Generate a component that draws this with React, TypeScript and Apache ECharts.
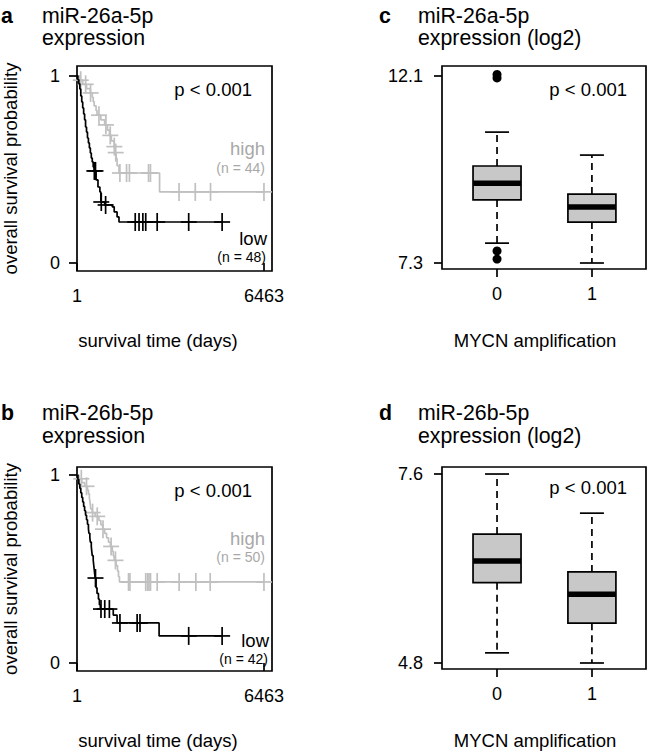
import React, { useEffect, useRef } from "react";
import * as echarts from "echarts";

// ---------- axis ticks ----------
const kmTickDays = [1, 6463];
const kmTickProb = [0, 1];
const boxGroupLabels = ["0", "1"];
const boxTicksC = [7.3, 12.1];
const boxTicksD = [4.8, 7.6];

// ---------- panel a : miR-26a-5p (Kaplan-Meier) ----------
// [day of event, survival after event]
const aHighEvents: [number, number][] = [
  [99, 0.977], [198, 0.955], [330, 0.932], [462, 0.909], [528, 0.886], [561, 0.863],
  [594, 0.84], [660, 0.815], [693, 0.79], [825, 0.765], [957, 0.738], [1056, 0.71],
  [1122, 0.682], [1188, 0.653], [1287, 0.622], [1320, 0.59], [1353, 0.558], [1386, 0.52],
  [1452, 0.481], [2855, 0.38],
];
const aHighCensored = [130, 300, 470, 760, 1000, 1150, 1290, 1340, 1484, 1714, 1813, 2473, 2539, 3528, 4088, 4616, 6462];
const aLowEvents: [number, number][] = [
  [33, 0.979], [66, 0.958], [99, 0.93], [132, 0.893], [165, 0.861], [198, 0.829],
  [231, 0.797], [264, 0.765], [297, 0.727], [330, 0.7], [363, 0.668], [396, 0.642],
  [429, 0.615], [462, 0.588], [495, 0.561], [528, 0.54], [561, 0.513], [594, 0.492],
  [660, 0.444], [726, 0.406], [792, 0.38], [825, 0.326], [957, 0.31], [1221, 0.3],
  [1287, 0.273], [1386, 0.246], [1452, 0.219],
];
const aLowCensored = [600, 640, 840, 990, 2013, 2145, 2277, 2376, 2772, 3861, 5016];

// ---------- panel b : miR-26b-5p (Kaplan-Meier) ----------
const bHighEvents: [number, number][] = [
  [66, 0.98], [165, 0.96], [264, 0.94], [363, 0.92], [396, 0.9], [429, 0.88], [445, 0.86],
  [462, 0.84], [478, 0.82], [528, 0.8], [627, 0.78], [759, 0.758], [825, 0.735],
  [891, 0.712], [957, 0.689], [1023, 0.666], [1089, 0.643], [1155, 0.62], [1221, 0.595],
  [1254, 0.57], [1287, 0.546], [1353, 0.518], [1402, 0.49], [1435, 0.46], [1468, 0.431],
];
const bHighCensored = [150, 330, 540, 700, 900, 1180, 1330, 1782, 1830, 2376, 2442, 2490, 2541, 2772, 3531, 4108, 4604, 6462];
const bLowEvents: [number, number][] = [
  [33, 0.976], [66, 0.952], [99, 0.929], [132, 0.905], [165, 0.881], [198, 0.857],
  [231, 0.833], [264, 0.81], [297, 0.786], [330, 0.762], [363, 0.738], [396, 0.714],
  [412, 0.69], [445, 0.667], [462, 0.643], [495, 0.619], [511, 0.595], [528, 0.571],
  [561, 0.548], [577, 0.524], [594, 0.5], [610, 0.476], [627, 0.452], [660, 0.4],
  [693, 0.37], [742, 0.34], [775, 0.31], [808, 0.287], [1254, 0.255], [1386, 0.213],
  [2838, 0.144],
];
const bLowCensored = [640, 830, 960, 1120, 1485, 2079, 2178, 3861, 5016];

// ---------- panels c, d : boxplots [low whisker, Q1, median, Q3, high whisker] ----------
const cBoxes: number[][] = [
  [7.81, 8.92, 9.35, 9.79, 10.66],
  [7.3, 8.35, 8.74, 9.07, 10.07],
];
const cOutliers: number[][] = [
  [0, 12.14], [0, 12.05], [0, 7.61], [0, 7.4],
];
const dBoxes: number[][] = [
  [4.95, 5.99, 6.31, 6.71, 7.6],
  [4.8, 5.39, 5.82, 6.15, 7.02],
];

const FONT = "'Liberation Sans', Arial, Helvetica, sans-serif";
const GRAY_LINE = "#c0c0c0";
const GRAY_TEXT = "#a8a8a8";
const LW = 1.7;

function survivalPath(events: [number, number][], censored: number[]) {
  const pts: number[][] = [[1, 1]];
  let s = 1;
  for (const [t, v] of events) {
    pts.push([t, s]);
    pts.push([t, v]);
    s = v;
  }
  const last = Math.max(events[events.length - 1][0], ...censored);
  pts.push([last, s]);
  return pts;
}
function survivalAt(events: [number, number][], t: number) {
  let s = 1;
  for (const [te, v] of events) if (te <= t) s = v;
  return s;
}
function censorPoints(events: [number, number][], censored: number[]) {
  return censored.map((t) => [t, survivalAt(events, t)]);
}

function plusRender(color: string) {
  return (params: any, api: any) => {
    const p = api.coord([api.value(0), api.value(1)]);
    const st = { stroke: color, lineWidth: LW };
    return {
      type: "group",
      children: [
        { type: "line", shape: { x1: p[0] - 8, y1: p[1], x2: p[0] + 8, y2: p[1] }, style: st },
        { type: "line", shape: { x1: p[0], y1: p[1] - 9, x2: p[0], y2: p[1] + 9 }, style: st },
      ],
    };
  };
}

function boxRender(params: any, api: any) {
  const x = api.value(0);
  const lo = api.coord([x, api.value(1)]);
  const q1 = api.coord([x, api.value(2)]);
  const med = api.coord([x, api.value(3)]);
  const q3 = api.coord([x, api.value(4)]);
  const hi = api.coord([x, api.value(5)]);
  const cx = lo[0];
  const hb = 24;
  const hc = 12;
  const solid = { stroke: "#000", lineWidth: LW };
  const dashed = { stroke: "#000", lineWidth: LW, lineDash: [7, 5] };
  return {
    type: "group",
    children: [
      { type: "line", shape: { x1: cx, y1: q3[1], x2: cx, y2: hi[1] }, style: dashed },
      { type: "line", shape: { x1: cx, y1: q1[1], x2: cx, y2: lo[1] }, style: dashed },
      { type: "line", shape: { x1: cx - hc, y1: hi[1], x2: cx + hc, y2: hi[1] }, style: solid },
      { type: "line", shape: { x1: cx - hc, y1: lo[1], x2: cx + hc, y2: lo[1] }, style: solid },
      {
        type: "rect",
        shape: { x: cx - hb, y: q3[1], width: hb * 2, height: q1[1] - q3[1] },
        style: { fill: "#c8c8c8", stroke: "#000", lineWidth: LW },
      },
      { type: "line", shape: { x1: cx - hb, y1: med[1], x2: cx + hb, y2: med[1] }, style: { stroke: "#000", lineWidth: 5.5 } },
    ],
  };
}

const tickStyle = { show: true, length: 8, lineStyle: { color: "#000", width: LW } };
const labelStyle = { color: "#000", fontSize: 18, fontFamily: FONT };

function kmXAxis(gridIndex: number) {
  return {
    type: "value", gridIndex, min: 1, max: 6740,
    axisLine: { show: false }, splitLine: { show: false },
    axisTick: { ...tickStyle, customValues: kmTickDays },
    axisLabel: { ...labelStyle, customValues: kmTickDays, margin: 16, formatter: (v: number) => String(Math.round(v)) },
  };
}
function kmYAxis(gridIndex: number, min: number, max: number) {
  return {
    type: "value", gridIndex, min, max,
    axisLine: { show: false }, splitLine: { show: false },
    axisTick: { ...tickStyle, customValues: kmTickProb },
    axisLabel: { ...labelStyle, customValues: kmTickProb, margin: 17, formatter: (v: number) => String(Math.round(v)) },
    name: "overall survival probability", nameLocation: "middle", nameRotate: 90, nameGap: 57,
    nameTextStyle: { color: "#000", fontSize: 18.5, fontFamily: FONT },
  };
}
function boxXAxis(gridIndex: number) {
  return {
    type: "value", gridIndex, min: 0.42, max: 2.57,
    axisLine: { show: false }, splitLine: { show: false },
    axisTick: { ...tickStyle, customValues: [1, 2] },
    axisLabel: { ...labelStyle, customValues: [1, 2], margin: 16, formatter: (v: number) => boxGroupLabels[Math.round(v) - 1] },
  };
}
function boxYAxis(gridIndex: number, min: number, max: number, ticks: number[]) {
  return {
    type: "value", gridIndex, min, max,
    axisLine: { show: false }, splitLine: { show: false },
    axisTick: { ...tickStyle, customValues: ticks },
    axisLabel: { ...labelStyle, customValues: ticks, margin: 19, formatter: (v: number) => v.toFixed(1) },
  };
}

function txt(text: string, x: number, y: number, opts: any = {}) {
  return {
    type: "text",
    x, y,
    rotation: opts.rotation || 0,
    style: {
      text,
      x: 0, y: 0,
      fill: opts.color || "#000",
      font: `${opts.bold ? "bold " : ""}${opts.size || 18.5}px ${FONT}`,
      textAlign: opts.align || "left",
      textVerticalAlign: "middle",
    },
  };
}

const TS = 21.3;

export default function App() {
  const ref = useRef<HTMLDivElement>(null);
  useEffect(() => {
    const chart = echarts.init(ref.current!, null, { renderer: "svg" });
    const gridBase = { show: true, borderColor: "#000", borderWidth: LW, backgroundColor: "transparent" };
    const option: any = {
      animation: false,
      backgroundColor: "#fff",
      grid: [
        { ...gridBase, left: 68, top: 66, width: 204, height: 205 },
        { ...gridBase, left: 68, top: 467, width: 204, height: 204 },
        { ...gridBase, left: 442, top: 66, width: 204, height: 203 },
        { ...gridBase, left: 442, top: 467, width: 204, height: 202 },
      ],
      xAxis: [kmXAxis(0), kmXAxis(1), boxXAxis(2), boxXAxis(3)],
      yAxis: [
        kmYAxis(0, -0.043, 1.053),
        kmYAxis(1, -0.0426, 1.0426),
        boxYAxis(2, 7.146, 12.357, boxTicksC),
        boxYAxis(3, 4.711, 7.704, boxTicksD),
      ],
      series: [
        { type: "line", xAxisIndex: 0, yAxisIndex: 0, data: survivalPath(aHighEvents, aHighCensored), showSymbol: false, lineStyle: { color: GRAY_LINE, width: LW }, silent: true },
        { type: "custom", xAxisIndex: 0, yAxisIndex: 0, data: censorPoints(aHighEvents, aHighCensored), renderItem: plusRender(GRAY_LINE), encode: { x: 0, y: 1 }, silent: true },
        { type: "line", xAxisIndex: 0, yAxisIndex: 0, data: survivalPath(aLowEvents, aLowCensored), showSymbol: false, lineStyle: { color: "#000", width: LW }, silent: true },
        { type: "custom", xAxisIndex: 0, yAxisIndex: 0, data: censorPoints(aLowEvents, aLowCensored), renderItem: plusRender("#000"), encode: { x: 0, y: 1 }, silent: true },

        { type: "line", xAxisIndex: 1, yAxisIndex: 1, data: survivalPath(bHighEvents, bHighCensored), showSymbol: false, lineStyle: { color: GRAY_LINE, width: LW }, silent: true },
        { type: "custom", xAxisIndex: 1, yAxisIndex: 1, data: censorPoints(bHighEvents, bHighCensored), renderItem: plusRender(GRAY_LINE), encode: { x: 0, y: 1 }, silent: true },
        { type: "line", xAxisIndex: 1, yAxisIndex: 1, data: survivalPath(bLowEvents, bLowCensored), showSymbol: false, lineStyle: { color: "#000", width: LW }, silent: true },
        { type: "custom", xAxisIndex: 1, yAxisIndex: 1, data: censorPoints(bLowEvents, bLowCensored), renderItem: plusRender("#000"), encode: { x: 0, y: 1 }, silent: true },

        { type: "custom", xAxisIndex: 2, yAxisIndex: 2, data: cBoxes.map((b, i) => [i + 1, ...b]), renderItem: boxRender, encode: { x: 0, y: [1, 2, 3, 4, 5] }, silent: true },
        { type: "scatter", xAxisIndex: 2, yAxisIndex: 2, data: cOutliers.map(([g, v]) => [g + 1, v]), symbol: "circle", symbolSize: 9, itemStyle: { color: "#000", opacity: 1 }, silent: true },
        { type: "custom", xAxisIndex: 3, yAxisIndex: 3, data: dBoxes.map((b, i) => [i + 1, ...b]), renderItem: boxRender, encode: { x: 0, y: [1, 2, 3, 4, 5] }, silent: true },
      ],
      graphic: [
        txt("a", 1, 16, { bold: true, size: TS }),
        txt("miR-26a-5p", 42, 16, { size: TS }),
        txt("expression", 42, 38, { size: TS }),
        txt("p < 0.001", 252, 89, { align: "right" }),
        txt("high", 265, 148, { align: "right", color: GRAY_TEXT }),
        txt("(n = 44)", 265, 168, { align: "right", color: GRAY_TEXT, size: 14 }),
        txt("low", 267, 238, { align: "right" }),
        txt("(n = 48)", 266, 257, { align: "right", size: 14 }),
        txt("survival time (days)", 158, 340, { align: "center" }),

        txt("b", 1, 413, { bold: true, size: TS }),
        txt("miR-26b-5p", 42, 413, { size: TS }),
        txt("expression", 42, 436, { size: TS }),
        txt("p < 0.001", 252, 490, { align: "right" }),
        txt("high", 265, 538, { align: "right", color: GRAY_TEXT }),
        txt("(n = 50)", 265, 557, { align: "right", color: GRAY_TEXT, size: 14 }),
        txt("low", 269, 640, { align: "right" }),
        txt("(n = 42)", 268, 659, { align: "right", size: 14 }),
        txt("survival time (days)", 158, 740, { align: "center" }),

        txt("c", 379, 16, { bold: true, size: TS }),
        txt("miR-26a-5p", 418, 16, { size: TS }),
        txt("expression (log2)", 418, 38, { size: TS }),
        txt("p < 0.001", 627, 89, { align: "right" }),
        txt("MYCN amplification", 535, 340, { align: "center" }),

        txt("d", 379, 413, { bold: true, size: TS }),
        txt("miR-26b-5p", 418, 413, { size: TS }),
        txt("expression (log2)", 418, 436, { size: TS }),
        txt("p < 0.001", 627, 487, { align: "right" }),
        txt("MYCN amplification", 535, 740, { align: "center" }),
      ],
    };
    chart.setOption(option);
    return () => chart.dispose();
  }, []);
  return <div ref={ref} style={{ position: "absolute", left: 0, top: 0, width: 648, height: 752 }} />;
}
